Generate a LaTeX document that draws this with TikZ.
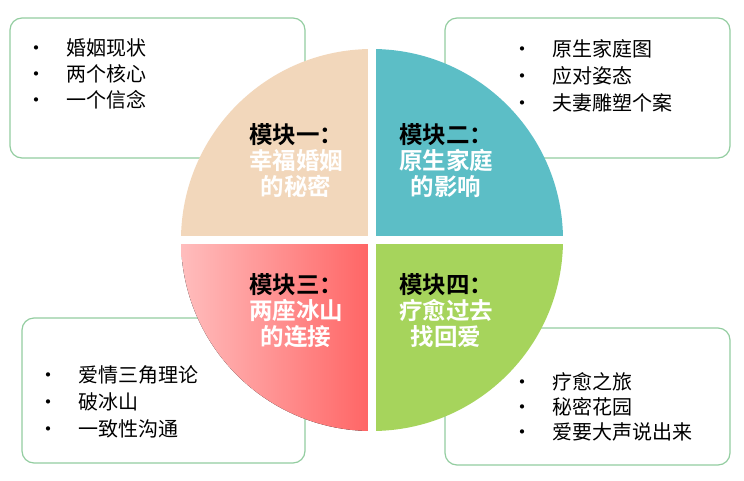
\documentclass[tikz,border=0pt]{standalone}
\usepackage{fontspec}
\newfontfamily\cjk{Noto Sans CJK SC}
\newfontfamily\cjkb{Noto Sans CJK SC Bold}
\definecolor{bord}{HTML}{93CDA0}
\definecolor{peach}{HTML}{F2D7BB}
\definecolor{teal}{HTML}{5CBEC6}
\definecolor{lgreen}{HTML}{A6D45C}
\definecolor{pinkL}{HTML}{FFBDBD}
\definecolor{pinkR}{HTML}{FF6464}
\begin{document}
\begin{tikzpicture}[x=1pt,y=-1pt,
  infobox/.style={draw=bord,line width=1.2pt,rounded corners=12pt,fill=white},
  head/.style={font=\cjkb\fontsize{23.5}{24}\selectfont,align=center,inner sep=0pt},
  item/.style={font=\cjk\fontsize{20}{22}\selectfont,anchor=west,inner sep=0pt}]
\useasboundingbox (0,0) rectangle (744,480);
\draw[infobox] (10,18) rectangle (305,158);
\draw[infobox] (445,18) rectangle (730,158);
\draw[infobox] (22,318) rectangle (305,463);
\draw[infobox] (445,328) rectangle (730,465);
\coordinate (c) at (372,240);
\fill[peach] (c) -- ++(-191,0) arc[start angle=180,end angle=270,radius=191] -- cycle;
\fill[teal] (c) -- ++(0,-191) arc[start angle=270,end angle=360,radius=191] -- cycle;
\fill[left color=pinkL,right color=pinkR] (c) -- ++(-191,0) arc[start angle=180,end angle=90,radius=191] -- cycle;
\fill[lgreen] (c) -- ++(191,0) arc[start angle=0,end angle=90,radius=191] -- cycle;
\draw[white,line width=8pt] (372,45) -- (372,435) (177,240) -- (567,240);
\node[head] (h1) at (296,161) {\textcolor{black}{模块一：}\\[2pt]\textcolor{white}{幸福婚姻}\\[2pt]\textcolor{white}{的秘密}};
\node[head] (h2) at (446,161) {\textcolor{black}{模块二：}\\[2pt]\textcolor{white}{原生家庭}\\[2pt]\textcolor{white}{的影响}};
\node[head] (h3) at (296,311) {\textcolor{black}{模块三：}\\[2pt]\textcolor{white}{两座冰山}\\[2pt]\textcolor{white}{的连接}};
\node[head] (h4) at (446,311) {\textcolor{black}{模块四：}\\[2pt]\textcolor{white}{疗愈过去}\\[2pt]\textcolor{white}{找回爱}};
\foreach \t [count=\i] in {婚姻现状,两个核心,一个信念}{
  \node[item] (a\i) at (26,22+26*\i) {\textbullet\hspace{20pt}\t};}
\foreach \t [count=\i] in {原生家庭图,应对姿态,夫妻雕塑个案}{
  \node[item] (b\i) at (512,22+27*\i) {\textbullet\hspace{20pt}\t};}
\foreach \t [count=\i] in {爱情三角理论,破冰山,一致性沟通}{
  \node[item] (d\i) at (38,348+27*\i) {\textbullet\hspace{20pt}\t};}
\foreach \t [count=\i] in {疗愈之旅,秘密花园,爱要大声说出来}{
  \node[item] (e\i) at (512,357+25*\i) {\textbullet\hspace{20pt}\t};}
\end{tikzpicture}
\end{document}
